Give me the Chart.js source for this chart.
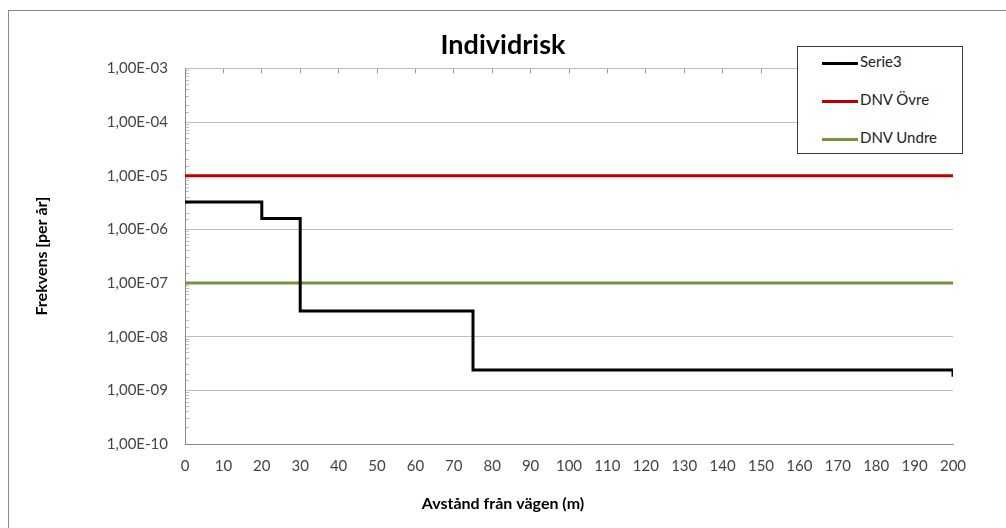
<!DOCTYPE html>
<html>
<head>
<meta charset="utf-8">
<script src="https://cdn.jsdelivr.net/npm/chart.js@4"></script>
<style>
  body { margin: 0; background: #fff; overflow: hidden; }
  #wrap { position: relative; width: 1006px; height: 528px; }
  #frame { position: absolute; left: 8px; top: 10px; width: 1100px; height: 600px; border: 1px solid #8a8a8a; }
  #legend {
    position: absolute; left: 797px; top: 46px; width: 164px; height: 106px;
    border: 1px solid #3a3a3a; background: #fff;
    font-family: Lato, "Open Sans", sans-serif; font-size: 15px; color: #222;
  }
  .item { position: absolute; left: 24px; height: 18px; line-height: 18px; }
  .item span.sw { display: inline-block; width: 36px; height: 3px; vertical-align: middle; margin-right: 2px; }
</style>
</head>
<body>
<div id="wrap">
  <div id="frame"></div>
  <canvas id="c" width="1006" height="528"></canvas>
  <div id="legend"></div>
</div>
<script>
// values
const distances = [0, 20, 30, 75, 200];
const serie3 = [3.25e-6, 1.6e-6, 3.0e-8, 2.4e-9, 1.8e-9];
const limitX = [0, 200];
const dnvUpper = [1e-5, 1e-5];
const dnvLower = [1e-7, 1e-7];

const seriesNames = ['Serie3', 'DNV Övre', 'DNV Undre'];
const seriesColors = ['#000000', '#c00000', '#77933c'];

const font = 'Lato, "Open Sans", sans-serif';

function pts(xs, ys) {
  return xs.map((x, i) => ({ x: x, y: ys[i] }));
}

function isDecade(v) {
  const e = Math.log10(v);
  return Math.abs(e - Math.round(e)) < 1e-9;
}

function expLabel(v) {
  const e = Math.round(Math.log10(v));
  const s = e < 0 ? '-' : '+';
  return '1,00E' + s + String(Math.abs(e)).padStart(2, '0');
}

const cfg = {
  type: 'line',
  data: {
    datasets: [
      // step: hold the value up to the next distance, then drop
      { label: seriesNames[0], data: pts(distances, serie3), stepped: 'before', borderColor: seriesColors[0], borderWidth: 3 },
      { label: seriesNames[1], data: pts(limitX, dnvUpper), borderColor: seriesColors[1], borderWidth: 3 },
      { label: seriesNames[2], data: pts(limitX, dnvLower), borderColor: seriesColors[2], borderWidth: 3 }
    ]
  },
  options: {
    responsive: false,
    animation: false,
    layout: { padding: { left: 0, right: 0, top: 20, bottom: 0 } },
    elements: { point: { radius: 0 }, line: { tension: 0, borderCapStyle: 'butt', borderJoinStyle: 'miter' } },
    plugins: {
      legend: { display: false },
      tooltip: { enabled: false },
      title: {
        display: true,
        text: 'Individrisk',
        color: '#000',
        font: { family: font, size: 27, weight: 'bold' },
        padding: { top: 9, bottom: 7 }
      },
      // x axis title, centred on the whole chart like the original
      subtitle: {
        display: true,
        position: 'bottom',
        text: 'Avstånd från vägen (m)',
        color: '#000',
        font: { family: font, size: 16, weight: 'bold' },
        padding: { top: 4, bottom: 15 }
      }
    },
    scales: {
      x: {
        type: 'linear',
        min: 0,
        max: 200,
        ticks: { stepSize: 10, color: '#444', font: { family: font, size: 15 }, padding: 13, maxRotation: 0, autoSkip: false },
        grid: { display: true, drawOnChartArea: false, drawTicks: false },
        border: { color: '#8a8a8a', width: 1 },
        afterFit: s => { s.height = 84 - 38.2; }
      },
      xTop: {
        type: 'linear',
        position: 'top',
        min: 0,
        max: 200,
        ticks: { stepSize: 10, display: false },
        grid: { drawOnChartArea: false, tickLength: -5, tickColor: '#9a9a9a' },
        border: { display: false },
        afterFit: s => { s.height = 0; }
      },
      y: {
        type: 'logarithmic',
        min: 1e-10,
        max: 1e-3,
        ticks: {
          color: '#444',
          font: { family: font, size: 15 },
          padding: 21,
          autoSkip: false,
          callback: v => isDecade(v) ? expLabel(v) : ''
        },
        grid: {
          tickLength: -4,
          color: c => (c.tick && isDecade(c.tick.value)) ? '#bdbdbd' : 'rgba(0,0,0,0)',
          tickColor: '#bdbdbd',
          lineWidth: 1
        },
        border: { color: '#8a8a8a', width: 1 },
        title: {
          display: true,
          text: 'Frekvens [per år]',
          color: '#000',
          font: { family: font, size: 16, weight: 'bold' },
          padding: { top: 32, bottom: 0 }
        },
        afterFit: s => { s.width = 185; }
      },
      y2: {
        type: 'linear',
        position: 'right',
        display: true,
        ticks: { display: false },
        grid: { display: false },
        border: { display: false },
        afterFit: s => { s.width = 53; }
      }
    }
  }
};

new Chart(document.getElementById('c'), cfg);

// legend in the plot's upper right corner
const legend = document.getElementById('legend');
seriesNames.forEach((name, i) => {
  const d = document.createElement('div');
  d.className = 'item';
  d.style.top = (5 + i * 38) + 'px';
  d.innerHTML = '<span class="sw" style="background:' + seriesColors[i] + '"></span>' + name;
  legend.appendChild(d);
});
</script>
</body>
</html>
